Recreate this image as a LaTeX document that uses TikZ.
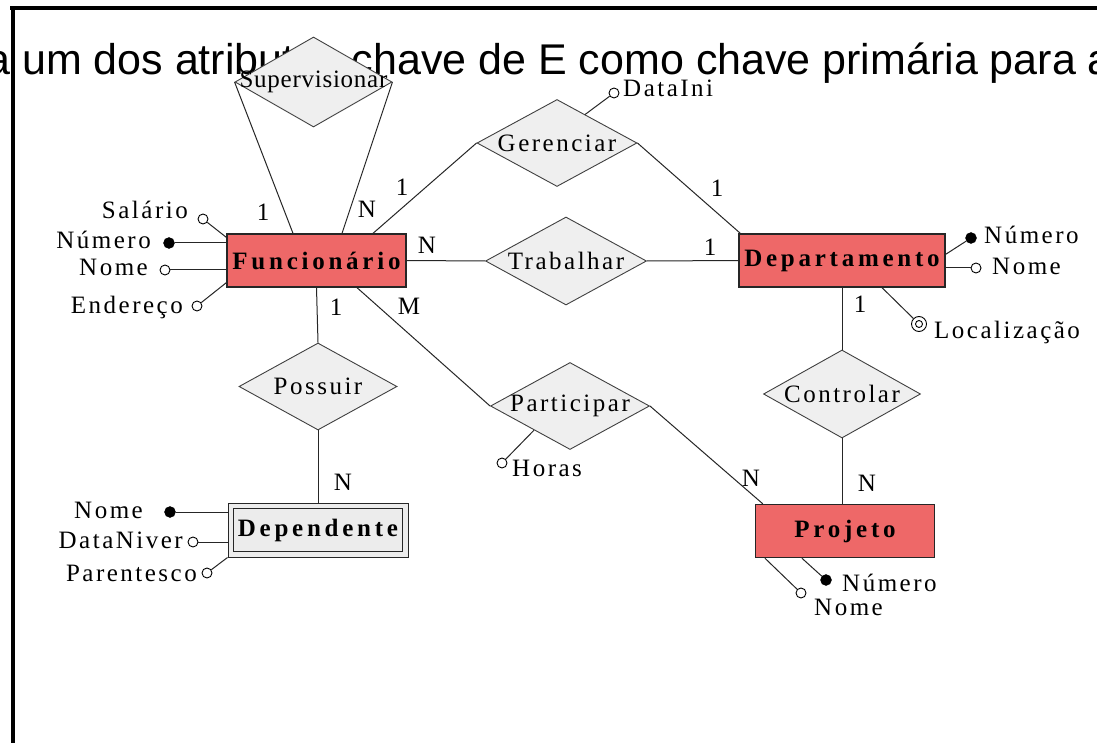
\documentclass[tikz,border=0pt]{standalone}
\usepackage{fontspec}
\usetikzlibrary{shapes.geometric,calc}
\newfontfamily\titlefont{Liberation Sans}
\newfontfamily\erfont{Liberation Serif}[LetterSpace=10]
\newfontfamily\ertightfont{Liberation Serif}[LetterSpace=3]
\newfontfamily\erboldfont{Liberation Serif}[LetterSpace=15]
\definecolor{entred}{RGB}{238,104,104}
\definecolor{relgray}{RGB}{239,239,239}
\definecolor{depgray}{RGB}{236,236,236}
\begin{document}
\begin{tikzpicture}[x=1pt,y=-1pt,
  every node/.style={inner sep=0pt},
  ent/.style={rectangle, draw=black!85, line width=1.3pt, fill=entred, font=\erboldfont\bfseries\fontsize{25}{27}\selectfont},
  rel/.style={diamond, draw=black!75, line width=0.9pt, fill=relgray, font=\erfont\fontsize{25}{27}\selectfont},
  conn/.style={draw=black!85, line width=1pt},
  attro/.style={circle, draw=black, line width=0.9pt, fill=white, minimum size=10pt},
  attrk/.style={circle, draw=black, fill=black, minimum size=11pt},
  atxt/.style={font=\erfont\fontsize{25}{27}\selectfont, text height=17pt, text depth=5pt},
  card/.style={font=\erfont\fontsize{25}{27}\selectfont}
]
\useasboundingbox (0,0) rectangle (1097,743);
\clip (0,0) rectangle (1097,743);
\fill[white] (0,0) rectangle (1097,743);

% title text behind the diagram
\node[anchor=base west, font=\titlefont\fontsize{43}{50}\selectfont] (title) at (-13.9,75)
  {a um dos atributos chave de E como chave primária para a};

% frame
\draw[line width=3.5pt, black] (10,8) -- (1097,8);
\draw[line width=3.5pt, black] (13,6.5) -- (13,743);

% entities
\node[ent, minimum width=179, minimum height=53] (func) at (316.5,260.5) {Funcionário};
\node[ent, minimum width=206, minimum height=53] (dept) at (842,260.5) {Departamento};
\node[ent, minimum width=179, minimum height=53] (proj) at (845,531) {Projeto};
\node[rectangle, draw=black!85, line width=1pt, fill=depgray, minimum width=180, minimum height=54] (depo) at (318,530) {};
\node[ent, line width=1pt, fill=depgray, minimum width=169, minimum height=43] (dep) at (318,530) {Dependente};

% relationships
\node[rel, minimum width=157, minimum height=90] (sup) at (313.5,82) {\makebox[0pt]{\ertightfont\fontsize{25}{27}\selectfont Supervisionar}};
\node[rel, minimum width=160, minimum height=87] (ger) at (557,143) {\makebox[0pt]{Gerenciar}};
\node[rel, minimum width=161, minimum height=88] (trab) at (566,261) {\makebox[0pt]{Trabalhar}};
\node[rel, minimum width=158, minimum height=87] (pos) at (318,386.5) {\makebox[0pt]{Possuir}};
\node[rel, minimum width=159, minimum height=87] (part) at (570,406) {\makebox[0pt]{Participar}};
\node[rel, minimum width=157, minimum height=88] (ctrl) at (842,394) {\makebox[0pt]{Controlar}};

% relationship connectors
\draw[conn] (sup.west) -- ($(func.north)+(-23.5,0)$);
\draw[conn] (sup.east) -- ($(func.north)+(25.5,0)$);
\draw[conn] ($(func.north)+(56.5,0)$) -- (ger.west);
\draw[conn] (ger.east) -- ($(dept.north west)+(2,0)$);
\draw[conn] (func.east) -- (trab.west);
\draw[conn] (trab.east) -- (dept.west);
\draw[conn] (func.south) -- (pos.north);
\draw[conn] (pos.south) -- (depo.north);
\draw[conn] ($(func.south)+(40.5,0)$) -- (part.west);
\draw[conn] (part.east) -- ($(proj.north west)+(8,0)$);
\draw[conn] (dept.south) -- (ctrl.north);
\draw[conn] (ctrl.south) -- (ctrl.south |- proj.north);

% cardinalities
\node[card] (c1) at (263,212) {1};
\node[card] (c2) at (367,209) {N};
\node[card] (c3) at (402,187) {1};
\node[card] (c4) at (717,188) {1};
\node[card] (c5) at (427,245) {N};
\node[card] (c6) at (710,247) {1};
\node[card] (c7) at (336,307) {1};
\node[card] (c8) at (409,306) {M};
\node[card] (c9) at (860,304) {1};
\node[card] (c10) at (343,482) {N};
\node[card] (c11) at (751,478) {N};
\node[card] (c12) at (867,483) {N};

% Funcionario attributes
\node[attro] (fsal) at (203,219) {};
\node[attrk] (fnum) at (169,243) {};
\node[attro] (fnom) at (165,270) {};
\node[attro] (fend) at (197,306) {};
\draw[conn] (fsal) -- ($(func.north west)+(0,4)$);
\draw[conn] (fnum) -- (fnum -| func.west);
\draw[conn] (fnom) -- (fnom -| func.west);
\draw[conn] (fend) -- ($(func.south west)+(0,-5)$);
\node[atxt, anchor=east] (tsal) at (188,213) {Salário};
\node[atxt, anchor=east] (tnum) at (151,243) {Número};
\node[atxt, anchor=east] (tnom) at (148,270) {Nome};
\node[atxt, anchor=east] (tend) at (183,307) {Endereço};

% Gerenciar attribute
\node[attro] (gdat) at (614,93) {};
\draw[conn] (gdat) -- ($(ger.north)!0.35!(ger.east)$);
\node[atxt, anchor=west] (tdat) at (623,91) {DataIni};

% Participar attribute
\node[attro] (phor) at (502,463) {};
\draw[conn] (phor) -- ($(part.west)!0.55!(part.south)$);
\node[atxt, anchor=west] (thor) at (512,470) {Horas};

% Departamento attributes
\node[attrk] (dnum) at (971,238) {};
\node[attro] (dnom) at (976,268) {};
\node[attro, minimum size=15pt] (dloc) at (919,324) {};
\node[circle, draw=black, line width=0.9pt, minimum size=7pt] (dloci) at (919,324) {};
\draw[conn] (dnum) -- ($(dept.north east)+(0,21)$);
\draw[conn] (dnom) -- (dnom -| dept.east);
\draw[conn] (dloc) -- ($(dept.south)+(40,0)$);
\node[atxt, anchor=west] (tdnum) at (984,238) {Número};
\node[atxt, anchor=west] (tdnom) at (992,268) {Nome};
\node[atxt, anchor=west] (tdloc) at (934,332) {Localização};

% Projeto attributes
\node[attrk] (pnum) at (826,580) {};
\node[attro] (pnom) at (801,593) {};
\draw[conn] (pnum) -- ($(proj.south west)+(47,0)$);
\draw[conn] (pnom) -- ($(proj.south west)+(10,0)$);
\node[atxt, anchor=west] (tpnum) at (842,585) {Número};
\node[atxt, anchor=west] (tpnom) at (814,609) {Nome};

% Dependente attributes
\node[attrk] (enom) at (170,512) {};
\node[attro] (edat) at (193,542) {};
\node[attro] (epar) at (207,573) {};
\draw[conn] (enom) -- (enom -| depo.west);
\draw[conn] (edat) -- (edat -| depo.west);
\draw[conn] (epar) -- (depo.south west);
\node[atxt, anchor=east] (tenom) at (143,512) {Nome};
\node[atxt, anchor=east] (tedat) at (183,542) {DataNiver};
\node[atxt, anchor=east] (tepar) at (197,575) {Parentesco};
\end{tikzpicture}
\end{document}
